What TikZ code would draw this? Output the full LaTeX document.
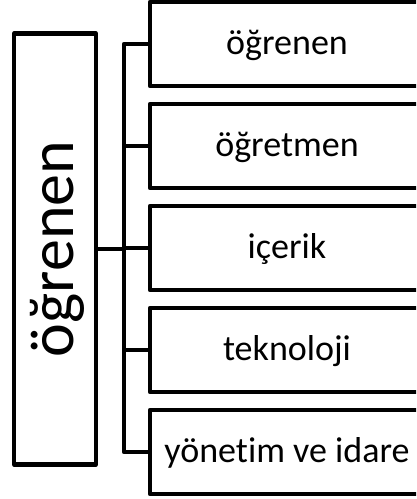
\documentclass[tikz,border=0pt]{standalone}
\usepackage{fontspec}
\setmainfont{Carlito}[Ligatures={NoCommon}]
\begin{document}
\begin{tikzpicture}[x=1pt,y=-1pt, line width=4.2pt, line join=round,
  leaf/.style={draw, rectangle, minimum width=274pt, minimum height=84pt, inner sep=0pt,
    text height=30pt, text depth=10pt, font=\fontsize{36}{40}\selectfont},
  rootbox/.style={draw, rectangle, rotate=90, minimum width=431pt, minimum height=82pt,
    inner sep=0pt, text height=50pt, text depth=14pt, font=\fontsize{64}{70}\selectfont},
  conn/.style={draw, line width=4.2pt}]
\useasboundingbox (0,0) rectangle (416,499);
\clip (0,0) rectangle (416,499);
\node[rootbox] (root) at (55,249) {öğrenen};
\coordinate (bus) at (124,249);
\node[leaf] (b1) at (287,44) {öğrenen};
\node[leaf] (b2) at (287,146) {öğretmen};
\node[leaf] (b3) at (287,248) {içerik};
\node[leaf] (b4) at (287,350) {teknoloji};
\node[leaf] (b5) at (287,452) {yönetim ve idare};
\draw[conn] (root.south |- bus) -- (bus);
\draw[conn] (b1.west) -- (b1.west -| bus) -- (b5.west -| bus) -- (b5.west);
\draw[conn] (b2.west -| bus) -- (b2.west);
\draw[conn] (b3.west -| bus) -- (b3.west);
\draw[conn] (b4.west -| bus) -- (b4.west);
\end{tikzpicture}
\end{document}
